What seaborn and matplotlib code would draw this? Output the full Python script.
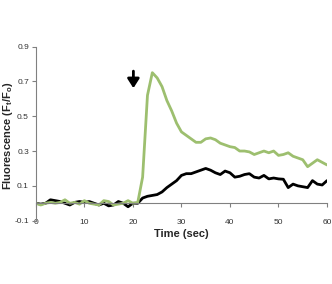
import numpy as np
import pandas as pd
import matplotlib
matplotlib.use('Agg')
import matplotlib.pyplot as plt
import seaborn as sns

# tiempo en segundos
time = list(range(0, 61))

green = [0.0, -0.01, 0.0, 0.005, 0.0, 0.005, 0.02, 0.0, 0.005, -0.005,
         0.015, 0.0, -0.005, -0.01, 0.015, 0.01, -0.01, -0.005, 0.0, 0.015,
         0.0, 0.005, 0.15, 0.62, 0.75, 0.72, 0.67, 0.59, 0.53, 0.46,
         0.41, 0.39, 0.37, 0.35, 0.35, 0.37, 0.375, 0.365, 0.345, 0.335,
         0.325, 0.32, 0.30, 0.30, 0.295, 0.28, 0.29, 0.30, 0.29, 0.30,
         0.275, 0.28, 0.29, 0.27, 0.26, 0.25, 0.21, 0.23, 0.25, 0.235,
         0.22]

black = [0.0, -0.005, 0.0, 0.02, 0.015, 0.01, 0.0, -0.01, 0.005, 0.01,
         0.005, 0.01, 0.0, -0.01, 0.0, -0.015, -0.01, 0.01, 0.0, -0.02,
         0.0, 0.0, 0.03, 0.04, 0.045, 0.05, 0.065, 0.09, 0.11, 0.13,
         0.16, 0.17, 0.17, 0.18, 0.19, 0.2, 0.19, 0.175, 0.165, 0.185,
         0.175, 0.15, 0.155, 0.165, 0.17, 0.15, 0.145, 0.16, 0.14, 0.145,
         0.14, 0.138, 0.09, 0.11, 0.10, 0.095, 0.09, 0.13, 0.11, 0.105,
         0.13]

x_ticks = [0, 10, 20, 30, 40, 50, 60]
y_ticks = [-0.1, 0.1, 0.3, 0.5, 0.7, 0.9]
arrow_t = 20.1

sns.set_style('white')
plt.rcParams['font.family'] = ['Liberation Sans', 'DejaVu Sans']
plt.rcParams['mathtext.fontset'] = 'custom'
plt.rcParams['mathtext.rm'] = 'Liberation Sans:bold'
plt.rcParams['mathtext.it'] = 'Liberation Sans:bold'

df = pd.DataFrame({'Time': time, 'green': green, 'black': black})

fig = plt.figure(figsize=(3.32, 2.84), dpi=100)
ax = fig.add_axes([0.108, 0.223, 0.877, 0.613])

sns.lineplot(data=df, x='Time', y='black', color='black', linewidth=2.0, ax=ax)
sns.lineplot(data=df, x='Time', y='green', color='#9dbf6f', linewidth=2.0, ax=ax)

ax.annotate('', xy=(arrow_t, 0.645), xytext=(arrow_t, 0.775),
            arrowprops=dict(arrowstyle='-|>,head_width=0.35,head_length=0.55',
                            color='black', lw=2.0))

ax.set_xlim(0, 60)
ax.set_ylim(-0.1, 0.9)
ax.set_xticks(x_ticks)
ax.set_yticks(y_ticks)
ax.set_yticklabels(['-0.1', '0.1', '0.3', '0.5', '0.7', '0.9'])

for s in ['top', 'right']:
    ax.spines[s].set_visible(False)
ax.spines['bottom'].set_position(('data', 0))
for s in ['left', 'bottom']:
    ax.spines[s].set_color('#808080')
    ax.spines[s].set_linewidth(0.8)

ax.tick_params(axis='both', direction='out', length=3, width=0.8,
               color='#808080', labelsize=6, labelcolor='#333333', pad=2,
               left=True, bottom=True)
ax.tick_params(axis='x', pad=8)

ax.set_xlabel('Time (sec)', fontsize=8, fontweight='bold')
ax.set_ylabel('Fluorescence (F$_\\mathrm{t}$/F$_\\mathrm{o}$)', fontsize=8, fontweight='bold')
ax.xaxis.set_label_coords(0.5, -0.05)
ax.yaxis.set_label_coords(-0.07, 0.49)

fig.savefig('out.png', dpi=100)
